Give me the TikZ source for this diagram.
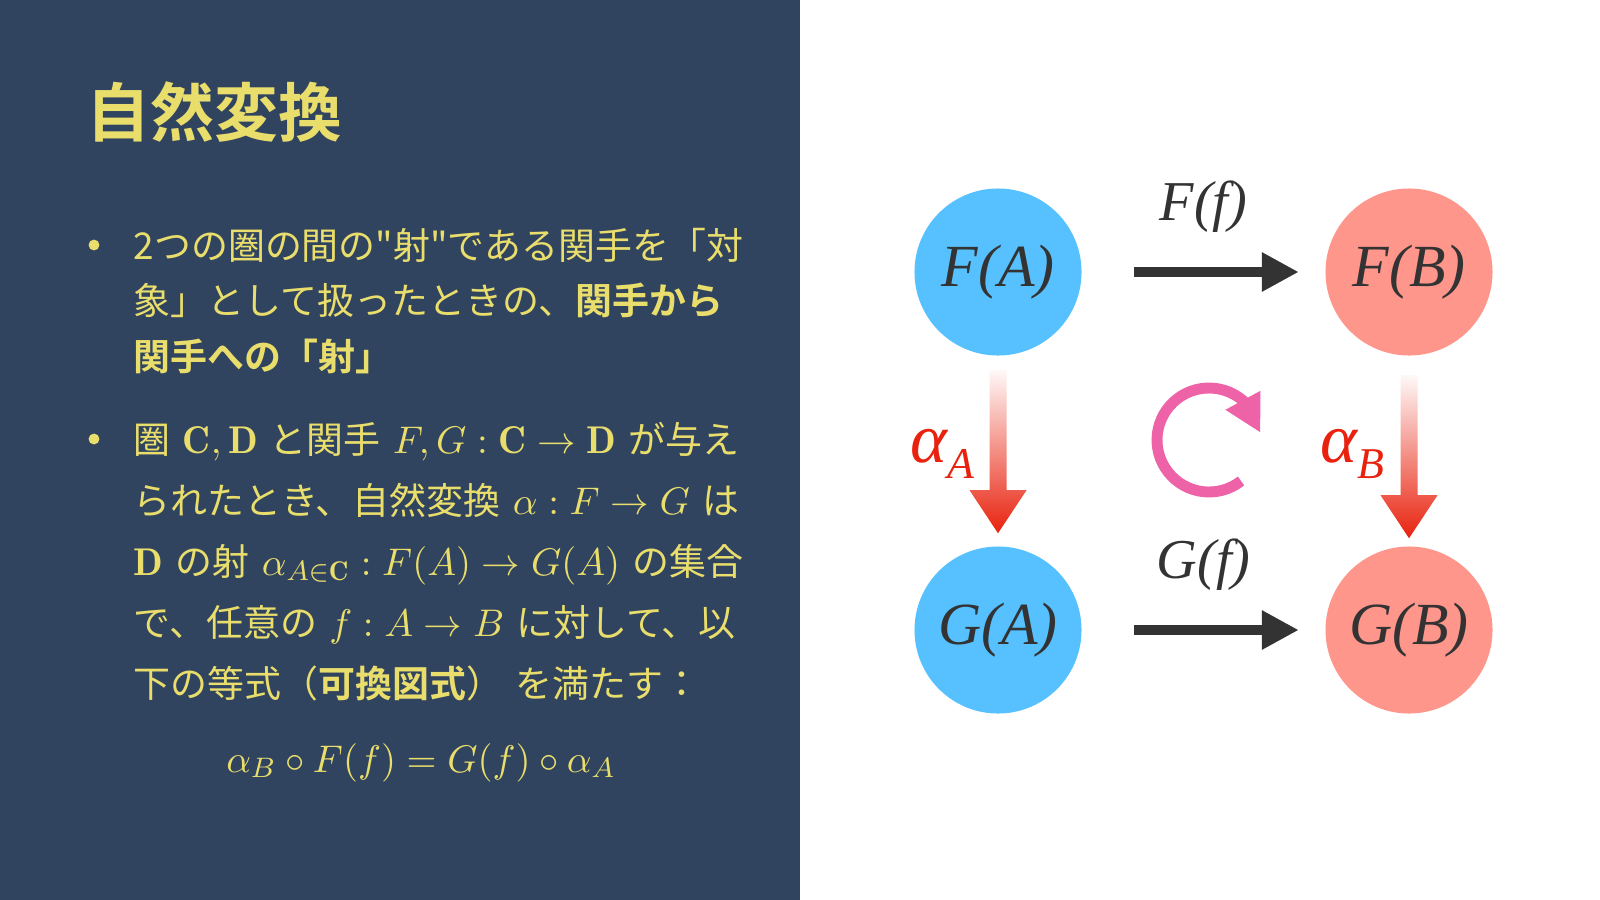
\documentclass[tikz,border=0pt]{standalone}
\usepackage{fontspec}
\usepackage{amsmath,amssymb}
\usetikzlibrary{arrows.meta,bending,calc,positioning}
\newfontfamily\jpfont{Noto Sans CJK JP}[Scale=0.955,BoldFont={Noto Sans CJK JP Bold}]
\newfontfamily\natfont{Liberation Serif}
\definecolor{slate}{HTML}{30445F}
\definecolor{chalk}{HTML}{E9DD6C}
\definecolor{objblue}{HTML}{56C1FE}
\definecolor{objpink}{HTML}{FF968C}
\definecolor{ink}{HTML}{333333}
\definecolor{alpred}{HTML}{E8220E}
\definecolor{swirl}{HTML}{EE62A8}

\tikzset{
  obj/.style={circle,minimum size=47.5pt,inner sep=0,text=ink,font=\natfont\itshape\fontsize{17}{17}\selectfont},
  maparrow/.style={draw=ink,line width=2.6pt,-{Triangle[length=10.5pt,width=10.5pt]},shorten <=14.8pt,shorten >=7.4pt},
  maplabel/.style={above=10pt,inner sep=0,text=ink,font=\natfont\itshape\fontsize{16}{16}\selectfont},
  natlabel/.style={inner sep=0,text=alpred,font=\natfont\itshape\fontsize{20}{20}\selectfont},
  natshade/.style={top color=alpred!3,bottom color=alpred},
  body/.style={anchor=base west,text width=7cm,align=left,inner sep=0,text=chalk},
  dot/.style={circle,fill=chalk,minimum size=3.1pt,inner sep=0}
}
\newcommand{\natarrow}[1]{\shade[natshade] (#1) ++(-8.5,0) -- ++(17,0) -- ++(0,120) -- ++(20,0) -- ++(-28.5,43) -- ++(-28.5,-43) -- ++(20,0) -- cycle;}
\newcommand{\subA}[1]{\raisebox{-4.8pt}{\fontsize{12.5}{12.5}\selectfont #1}}

\begin{document}
\begin{tikzpicture}[x=0.01cm,y=-0.01cm]
  \useasboundingbox (0,0) rectangle (1600,900);
  \fill[white] (0,0) rectangle (1600,900);
  \fill[slate] (0,0) rectangle (800,900);

  \node[anchor=base west,inner sep=0,text=chalk,font=\jpfont\bfseries\fontsize{19}{19}\selectfont] (title) at (86,136) {自然変換};

  \node[dot] (b1) at (94,245) {};
  \node[body,font=\jpfont\fontsize{11}{15.9}\selectfont] (item1) at (133,259)
    {2つの圏の間の"射"である関手を「対\\
     象」として扱ったときの、\textbf{関手から}\\
     \textbf{関手への「射」}};

  \node[dot] (b2) at (94,439) {};
  \node[body,font=\jpfont\fontsize{11}{17.35}\selectfont] (item2) at (133,453)
    {圏 $\mathbf{C},\mathbf{D}$ と関手 $F,G:\mathbf{C}\to\mathbf{D}$ が与え\\
     られたとき、自然変換 $\alpha:F\to G$ は\\
     $\mathbf{D}$ の射 $\alpha_{A\in\mathbf{C}}:F(A)\to G(A)$ の集合\\
     で、任意の $f:A\to B$ に対して、以\\
     下の等式（\textbf{可換図式}） を満たす：};

  \node[anchor=base,inner sep=0,text=chalk,font=\fontsize{10.95}{11}\selectfont] (eq) at (421,772)
    {$\alpha_B\circ F(f)=G(f)\circ\alpha_A$};

  \node[obj,fill=objblue] (FA) at (998,272) {F(A)};
  \node[obj,fill=objpink] (FB) at (1409,272) {F(B)};
  \node[obj,fill=objblue] (GA) at (998,630) {G(A)};
  \node[obj,fill=objpink] (GB) at (1409,630) {G(B)};

  \draw[maparrow] (FA) -- node[maplabel] (Ff) {F(f)} (FB);
  \draw[maparrow] (GA) -- node[maplabel] (Gf) {G(f)} (GB);

  \coordinate (aAs) at ($(FA.south)+(0,14)$);
  \coordinate (aBs) at ($(FB.south)+(0,19)$);
  \natarrow{aAs}
  \natarrow{aBs}
  \node[natlabel,anchor=base east] (lA) at (975,462) {α\subA{A}};
  \node[natlabel,anchor=base east] (lB) at (1385,462) {α\subA{B}};

  \coordinate (rot) at (1209,440);
  \draw[swirl,line width=3.1pt,-{Triangle[length=10.5pt,width=10.5pt]}]
    ([shift={(52:52)}]rot) arc[start angle=52,end angle=352,radius=52];
\end{tikzpicture}
\end{document}
